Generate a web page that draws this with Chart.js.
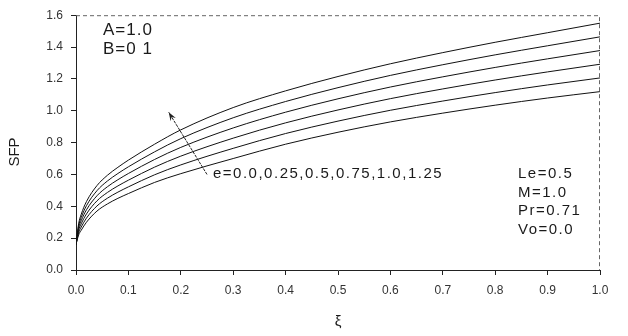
<!DOCTYPE html>
<html>
<head>
<meta charset="utf-8">
<script src="https://cdn.jsdelivr.net/npm/chart.js@4/dist/chart.umd.min.js"></script>
<style>
html,body{margin:0;padding:0;background:#fff;}
#wrap{width:628px;height:336px;position:relative;}
</style>
</head>
<body>
<div id="wrap"><canvas id="c" width="628" height="336"></canvas></div>
<script>
// ξ positions
const xi = [0, 0.005, 0.01, 0.02, 0.04, 0.06, 0.08, 0.1, 0.15, 0.2, 0.3, 0.4, 0.5, 0.6, 0.7, 0.8, 0.9, 1.0];
// SFP for each e
const e000 = [0.16, 0.22, 0.25, 0.30, 0.37, 0.415, 0.45, 0.48, 0.55, 0.605, 0.70, 0.79, 0.865, 0.93, 0.985, 1.035, 1.08, 1.12];
const e025 = [0.16, 0.234, 0.27, 0.326, 0.402, 0.451, 0.489, 0.522, 0.598, 0.66, 0.764, 0.857, 0.935, 1.003, 1.061, 1.114, 1.162, 1.206];
const e050 = [0.16, 0.248, 0.29, 0.352, 0.434, 0.487, 0.528, 0.564, 0.646, 0.715, 0.828, 0.924, 1.005, 1.076, 1.137, 1.193, 1.244, 1.292];
const e075 = [0.16, 0.262, 0.31, 0.378, 0.466, 0.523, 0.567, 0.606, 0.694, 0.77, 0.892, 0.991, 1.075, 1.149, 1.213, 1.272, 1.326, 1.378];
const e100 = [0.16, 0.276, 0.33, 0.404, 0.498, 0.559, 0.606, 0.648, 0.742, 0.825, 0.956, 1.058, 1.145, 1.222, 1.289, 1.351, 1.408, 1.464];
const e125 = [0.16, 0.29, 0.35, 0.43, 0.53, 0.595, 0.645, 0.69, 0.79, 0.88, 1.02, 1.125, 1.215, 1.295, 1.365, 1.43, 1.49, 1.55];
const seriesNames = ['e=0.0', 'e=0.25', 'e=0.5', 'e=0.75', 'e=1.0', 'e=1.25'];
const seriesValues = [e000, e025, e050, e075, e100, e125];
// tick settings
const xTicks = [0, 0.1, 0.2, 0.3, 0.4, 0.5, 0.6, 0.7, 0.8, 0.9, 1.0];
const yTicks = [0, 0.2, 0.4, 0.6, 0.8, 1.0, 1.2, 1.4, 1.6];
// annotation texts
const leftNotes = ['A=1.0', 'B=0 1'];
const rightNotes = ['Le=0.5', 'M=1.0', 'Pr=0.71', 'Vo=0.0'];
const arrowLabel = 'e=0.0,0.25,0.5,0.75,1.0,1.25';
const arrowFrom = {x: 0.25, y: 0.60};
const arrowTo = {x: 0.177, y: 0.99};

const FONT = '"Liberation Sans", Arial, sans-serif';

const datasets = seriesValues.map((vals, i) => ({
  label: seriesNames[i],
  data: xi.map((x, j) => ({x: x, y: vals[j]})),
  borderColor: '#111',
  borderWidth: 1,
  pointRadius: 0,
  fill: false,
  cubicInterpolationMode: 'monotone'
}));

const decor = {
  id: 'decor',
  afterDatasetsDraw(chart) {
    const ctx = chart.ctx;
    const a = chart.chartArea;
    const xs = chart.scales.x, ys = chart.scales.y;
    ctx.save();
    // frame top/right (lighter, as in the scan)
    ctx.strokeStyle = '#666';
    ctx.lineWidth = 1;
    ctx.setLineDash([4, 3]);
    ctx.beginPath();
    ctx.moveTo(a.left, a.top + 0.5); ctx.lineTo(a.right - 0.5, a.top + 0.5); ctx.lineTo(a.right - 0.5, a.bottom);
    ctx.stroke();
    ctx.setLineDash([]);
    // arrow
    const x1 = xs.getPixelForValue(arrowFrom.x), y1 = ys.getPixelForValue(arrowFrom.y);
    const x2 = xs.getPixelForValue(arrowTo.x), y2 = ys.getPixelForValue(arrowTo.y);
    ctx.strokeStyle = '#222';
    ctx.lineWidth = 1;
    ctx.setLineDash([3, 1]);
    ctx.beginPath(); ctx.moveTo(x1, y1); ctx.lineTo(x2, y2); ctx.stroke();
    ctx.setLineDash([]);
    const ang = Math.atan2(y2 - y1, x2 - x1);
    const L = 9, w = 0.35;
    ctx.beginPath();
    ctx.moveTo(x2, y2);
    ctx.lineTo(x2 - L * Math.cos(ang - w), y2 - L * Math.sin(ang - w));
    ctx.lineTo(x2 - 0.6 * L * Math.cos(ang), y2 - 0.6 * L * Math.sin(ang));
    ctx.lineTo(x2 - L * Math.cos(ang + w), y2 - L * Math.sin(ang + w));
    ctx.closePath();
    ctx.fillStyle = '#222';
    ctx.fill();
    // texts
    ctx.fillStyle = '#1a1a1a';
    ctx.textBaseline = 'middle';
    ctx.textAlign = 'left';
    ctx.font = '17px ' + FONT;
    if ('letterSpacing' in ctx) ctx.letterSpacing = '1px';
    leftNotes.forEach((t, i) => ctx.fillText(t, 103, 30 + i * 19));
    ctx.font = '15px ' + FONT;
    if ('letterSpacing' in ctx) ctx.letterSpacing = '1.5px';
    ctx.fillText(arrowLabel, 213, 174);
    rightNotes.forEach((t, i) => ctx.fillText(t, 518, 174 + i * 18.5));
    if ('letterSpacing' in ctx) ctx.letterSpacing = '0px';
    // axis titles
    ctx.font = '15px ' + FONT;
    ctx.textAlign = 'center';
    ctx.fillText('ξ', (a.left + a.right) / 2, 322);
    ctx.save();
    ctx.translate(15, 152);
    ctx.rotate(-Math.PI / 2);
    ctx.fillText('SFP', 0, 0);
    ctx.restore();
    ctx.restore();
  }
};

new Chart(document.getElementById('c'), {
  type: 'line',
  data: {datasets},
  options: {
    responsive: false,
    animation: false,
    devicePixelRatio: 1,
    layout: {padding: {left: 0, right: 28, top: 8, bottom: 0}},
    plugins: {legend: {display: false}, tooltip: {enabled: false}},
    scales: {
      x: {
        type: 'linear', min: 0, max: 1,
        afterFit(s) { s.height = 66; },
        afterBuildTicks(s) { s.ticks = xTicks.map(v => ({value: v})); },
        grid: {drawOnChartArea: false, drawTicks: true, tickLength: 5, color: '#222'},
        border: {display: true, color: '#222', width: 1},
        ticks: {color: '#333', padding: 8, maxRotation: 0, autoSkip: false,
          font: {family: FONT, size: 12},
          callback: v => Number(v).toFixed(1)}
      },
      y: {
        type: 'linear', min: 0, max: 1.6,
        afterFit(s) { s.width = 76; },
        afterBuildTicks(s) { s.ticks = yTicks.map(v => ({value: v})); },
        grid: {drawOnChartArea: false, drawTicks: true, tickLength: 5, color: '#222'},
        border: {display: true, color: '#222', width: 1},
        ticks: {color: '#333', padding: 8, autoSkip: false,
          font: {family: FONT, size: 12},
          callback: v => Number(v).toFixed(1)}
      }
    }
  },
  plugins: [decor]
});
</script>
</body>
</html>
